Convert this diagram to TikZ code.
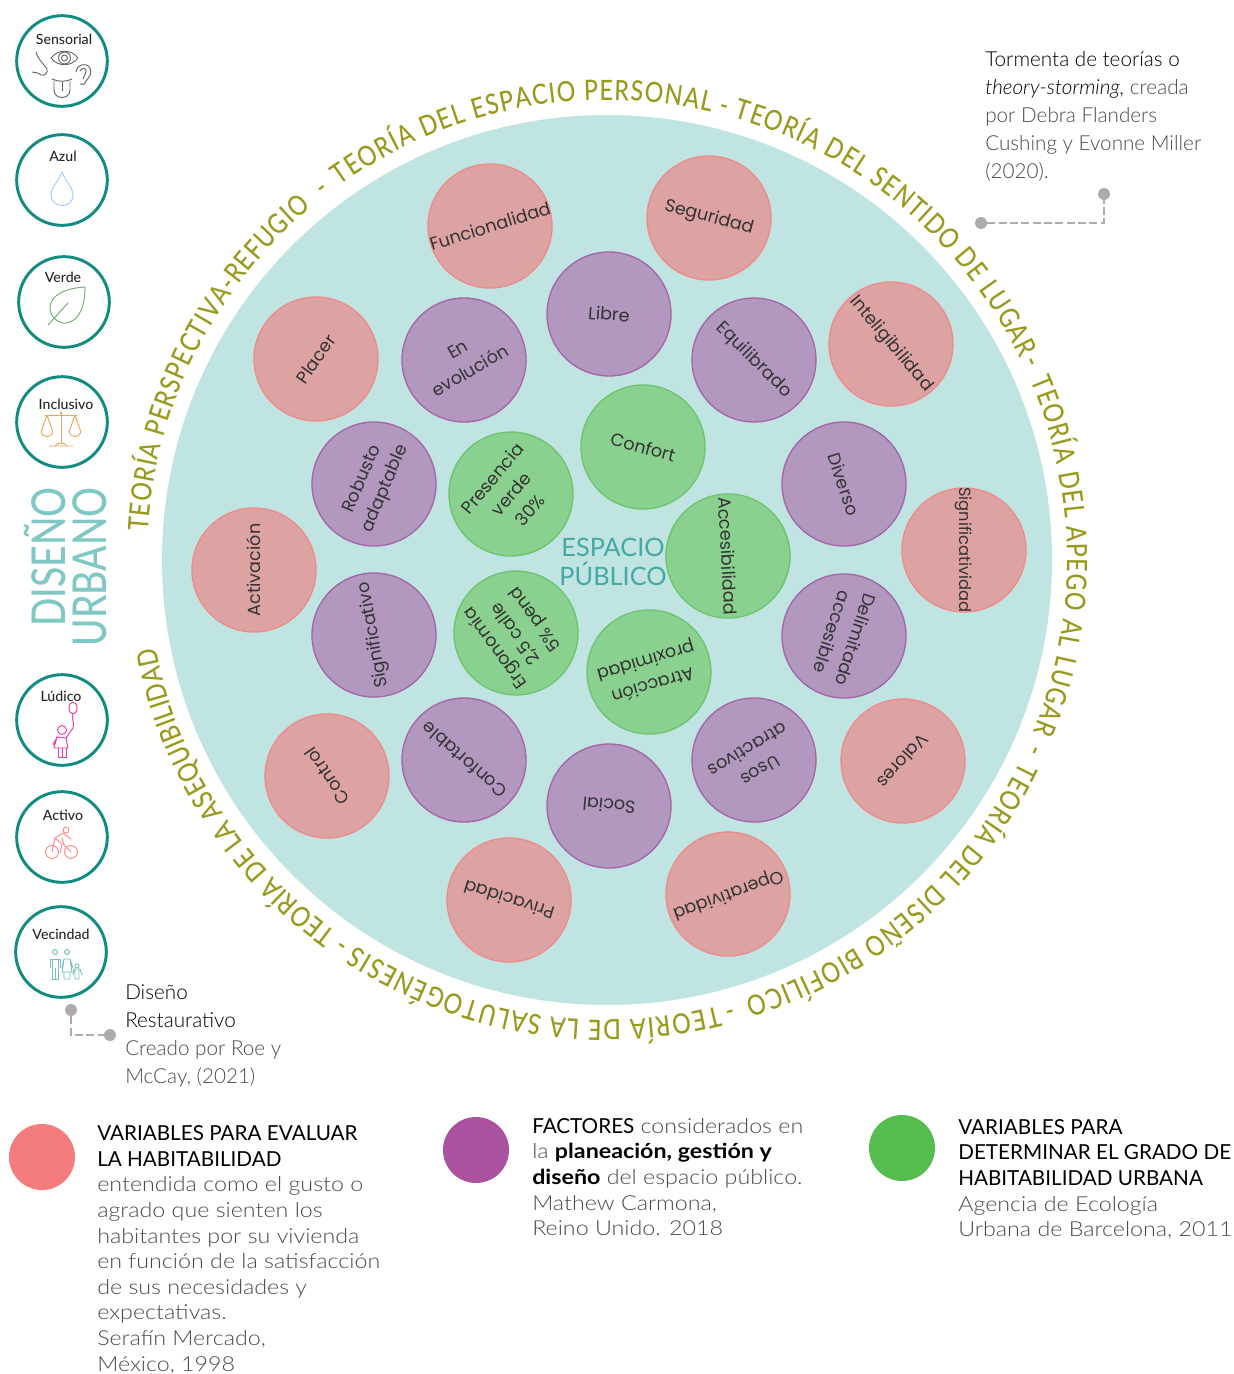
\documentclass[tikz,border=0pt]{standalone}
\usepackage{fontspec}
\usetikzlibrary{decorations.text}
\setmainfont{Lato}
\newfontfamily\gothic{Poppins}
\newfontfamily\lightf{Lato}[UprightFont=* Light,ItalicFont=* Light Italic,BoldFont=* Bold]
\newfontfamily\legf{Lato}[UprightFont=* Light,ItalicFont=* Light Italic,BoldFont=* Bold,FakeStretch=1.125]
\newfontfamily\arcf{Lato}[UprightFont=* Medium,FakeStretch=0.83]
\newfontfamily\titf{Lato}[UprightFont=* Medium,FakeStretch=0.8]
\newfontfamily\medf{Lato}[UprightFont=* Medium]
\definecolor{mainbg}{HTML}{BFE4E1}
\definecolor{redf}{HTML}{DDA3A3}\definecolor{redd}{HTML}{EE8A8A}
\definecolor{purf}{HTML}{B297BF}\definecolor{purd}{HTML}{A565A8}
\definecolor{grnf}{HTML}{8AD08F}\definecolor{grnd}{HTML}{6CC56E}
\definecolor{tealr}{HTML}{128C82}
\definecolor{olive2}{HTML}{9A9A1E}
\definecolor{lteal}{HTML}{7FC8C3}
\definecolor{ep}{HTML}{45A8A5}
\definecolor{gr}{HTML}{AFABAB}
\definecolor{tx}{HTML}{333333}
\definecolor{bodyc}{HTML}{4A4A4A}
\tikzset{
 x=0.75pt,y=-0.75pt,
 vbub/.style={circle,minimum size=93pt,inner sep=0pt,align=center,text=tx,line width=1pt,font=\gothic\fontsize{13.2}{18.5}\selectfont},
 redb/.style={vbub,fill=redf,draw=redd},
 purb/.style={vbub,fill=purf,draw=purd},
 grnb/.style={vbub,fill=grnf,draw=grnd},
 ring/.style={circle,draw=tealr,line width=2.2pt,minimum size=68pt,inner sep=0pt,fill=white},
 ringl/.style={font=\medf\fontsize{10.6}{12}\selectfont,text=black!85,inner sep=0pt},
 dotn/.style={circle,fill=gr,minimum size=9pt,inner sep=0pt},
 conn/.style={draw=gr,line width=2pt,dash pattern=on 6pt off 2.5pt},
 ico/.style={line width=0.7pt,line cap=round,line join=round},
 body/.style={anchor=north west,inner sep=0pt,align=left,text=bodyc},
 legc/.style={circle,minimum size=49.5pt,inner sep=0pt},
}
\newcommand\arcseg[3]{\path[decorate,decoration={text along path,text align={fit to path},text color=olive2,text={|\arcf\fontsize{21}{24}\selectfont|#3}}] (#1:460) arc[start angle=#1,end angle=#2,radius=460];}
\newcommand\arcdash[1]{\node[anchor=base,inner sep=0pt,text=olive2,rotate=#1-90,font=\arcf\fontsize{21}{24}\selectfont] at (#1:460) {-};}
\newcommand\nw[1]{\makebox[0pt][c]{#1}}
\begin{document}
\begin{tikzpicture}
\useasboundingbox (0,0) rectangle (1233,1374);
\node[circle,fill=mainbg,minimum size=667.5pt,inner sep=0pt] (main) at (607,560) {};
% arc text
\begin{scope}[shift={(607,560)},x=0.75pt,y=0.75pt]
\arcseg{176.5}{130}{TEORÍA PERSPECTIVA-REFUGIO}
\arcdash{127.5}
\arcseg{125.5}{77}{TEORÍA DEL ESPACIO PERSONAL}
\arcdash{75.5}
\arcseg{74}{26}{TEORÍA DEL SENTIDO DE LUGAR}
\arcdash{25}
\arcseg{23}{-22}{TEORÍA DEL APEGO AL LUGAR}
\arcdash{-24}
\arcseg{-26}{-72.5}{TEORÍA DEL DISEÑO BIOFÍLICO}
\arcdash{-74.8}
\arcseg{-76}{-123}{TEORÍA DE LA SALUTOGÉNESIS}
\arcdash{-124.5}
\arcseg{-126}{-169}{TEORÍA DE LA ASEQUIBILIDAD}
\end{scope}
% red
\node[redb,rotate=17] (r1) at (490,226) {\nw{Funcionalidad}};
\node[redb,rotate=-15] (r2) at (709,218) {Seguridad};
\node[redb,rotate=55] (r3) at (316,359) {Placer};
\node[redb,rotate=-50] (r4) at (891,344) {\nw{Inteligibilidad}};
\node[redb,rotate=90] (r5) at (254,570) {Activación};
\node[redb,rotate=-90] (r6) at (964,550) {\nw{\fontsize{12.2}{15}\selectfont Significatividad}};
\node[redb,rotate=124] (r7) at (327,776) {Control};
\node[redb,rotate=228] (r8) at (903,761) {Valores};
\node[redb,rotate=163] (r9) at (509,900) {Privacidad};
\node[redb,rotate=200] (r10) at (728,894) {\nw{Operatividad}};
% purple
\node[purb,rotate=-4] (p1) at (609,314) {Libre};
\node[purb,rotate=30] (p2) at (464,360) {En\\evolución};
\node[purb,rotate=-45] (p3) at (754,360) {Equilibrado};
\node[purb,rotate=67] (p4) at (374,484) {Robusto\\adaptable};
\node[purb,rotate=-72] (p5) at (844,484) {Diverso};
\node[purb,rotate=100] (p6) at (374,635) {\nw{Significativo}};
\node[purb,rotate=-108] (p7) at (844,636) {Delimitado\\accesible};
\node[purb,rotate=139] (p8) at (464,760) {Confortable};
\node[purb,rotate=211] (p9) at (754,760) {Usos\\atractivos};
\node[purb,rotate=175] (p10) at (609,806) {Social};
% green
\node[grnb,rotate=-15] (g1) at (643,447) {Confort};
\node[grnb,rotate=50] (g2) at (511,494) {Presencia\\verde\\30\%};
\node[grnb,rotate=-87] (g3) at (728,556) {\nw{Accesibilidad}};
\node[grnb,rotate=126] (g4) at (516,633) {Ergonomía\\2,5 calle\\5\% pend};
\node[grnb,rotate=196.5] (g5) at (649,672) {Atracción\\proximidad};
\node[align=center,inner sep=0pt,text=ep,font=\fontsize{19}{21.5}\selectfont] (ep) at (613,562) {ESPACIO\\PÚBLICO};
% left title
\node[rotate=90,text=lteal,inner sep=0pt,font=\titf\fontsize{35}{38}\selectfont] (dis) at (45,557) {DISEÑO};
\node[rotate=90,text=lteal,inner sep=0pt,font=\titf\fontsize{35}{38}\selectfont] (urb) at (90,567) {URBANO};
% rings
\node[ring] (c1) at (62,61) {};
\node[ring] (c2) at (62,180) {};
\node[ring] (c3) at (64,302) {};
\node[ring] (c4) at (62,422) {};
\node[ring] (c5) at (62,720) {};
\node[ring] (c6) at (62,837) {};
\node[ring] (c7) at (61,952) {};
\node[ringl] (l1) at (64,39) {Sensorial};
\node[ringl] (l2) at (63,156) {Azul};
\node[ringl] (l3) at (63,277) {Verde};
\node[ringl] (l4) at (66,404) {Inclusivo};
\node[ringl] (l5) at (61,696) {Lúdico};
\node[ringl] (l6) at (63,815) {Activo};
\node[ringl] (l7) at (61,934) {Vecindad};
% sensorial icons
\begin{scope}[ico,draw=black!60]
\draw (51,58) .. controls (58,49) and (71,49) .. (78,58) .. controls (71,67) and (58,67) .. (51,58) -- cycle;
\draw (64.5,58) circle[radius=6]; \draw (64.5,58) circle[radius=3];
\draw (36,52) .. controls (38,60) and (44,64) .. (47,69) .. controls (48,73) and (45,76) .. (41,75) .. controls (38,72) and (35,73) .. (32,72);
\draw (76,72) .. controls (77,64) and (86,62) .. (90,68) .. controls (93,74) and (88,78) .. (86,81) .. controls (85,85) and (82,85) .. (80,84);
\draw (80,71) .. controls (82,67) and (87,68) .. (86,72) .. controls (86,75) and (83,76) .. (83,79);
\draw (52,79) .. controls (58,82) and (66,82) .. (72,79);
\draw (54,81) -- (54,90) .. controls (54,100) and (70,100) .. (70,90) -- (70,81);
\draw (62,82) -- (62,91);
\end{scope}
% drop
\draw[ico,draw=blue!60!cyan!35] (62,172) .. controls (58,182) and (51,188) .. (51,195) .. controls (51,209) and (73,209) .. (73,195) .. controls (73,188) and (66,182) .. (62,172) -- cycle;
% leaf
\draw[ico,draw=green!40!black!55] (85,287) .. controls (66,288) and (50,295) .. (50,308) .. controls (50,318) and (60,324) .. (66,323) .. controls (80,321) and (85,305) .. (85,287) -- cycle;
\draw[ico,draw=green!40!black!55] (68,303) -- (48,325);
% scales
\begin{scope}[ico,draw=orange!60!brown!70]
\draw (45,415) -- (77,415); \draw (61,413) -- (61,443);
\draw (49,446) -- (73,446) (55,446) .. controls (56,442) and (66,442) .. (67,446);
\draw (47,415) -- (41,432) .. controls (42,438) and (52,438) .. (53,432) -- cycle;
\draw (75,415) -- (69,432) .. controls (70,438) and (80,438) .. (81,432) -- cycle;
\fill[orange!60!brown!70] (61,413) circle[radius=1.5];
\end{scope}
% girl
\begin{scope}[ico,draw=magenta!70!pink]
\draw (73,708) ellipse[x radius=4,y radius=6];
\draw (73,714) .. controls (71,720) and (75,722) .. (73,728);
\draw (62,730) circle[radius=4.5];
\draw (73,728) -- (66,738) -- (68,748) -- (54,748) -- (57,737) -- (53,745);
\draw (57,737) -- (66,738);
\draw (58,748) -- (58,757) -- (66,757) -- (66,748) (62,748) -- (62,757);
\end{scope}
% cyclist
\begin{scope}[ico,draw=pink!70!red]
\draw (52,852) circle[radius=6.5] (71,852) circle[radius=6.5];
\draw (66,830) circle[radius=3];
\draw (52,852) -- (55,838) -- (63,833) -- (71,839) (55,838) -- (62,844) -- (60,853) (62,838) -- (64,845) -- (71,852);
\end{scope}
% family
\begin{scope}[ico,draw=ep!75]
\draw (55,952) circle[radius=2.5] (67,952) circle[radius=2.5] (77,966) circle[radius=2];
\draw (50,968) -- (50,959) -- (60,959) -- (60,968) (52,960) -- (52,979) -- (58,979) -- (58,960) (55,968) -- (55,979);
\draw (62,968) -- (64,959) -- (70,959) -- (73,968) (64,959) -- (62,972) -- (72,972) -- (70,959) (64,972) -- (64,979) -- (70,979) -- (70,972);
\draw (73,975) -- (74,969) -- (80,969) -- (82,975) (75,970) -- (75,979) -- (79,979) -- (79,970);
\end{scope}
% connectors
\node[dotn] (d1) at (981,223) {};
\node[dotn] (d2) at (1104,194) {};
\node[dotn] (d3) at (71,1010) {};
\node[dotn] (d4) at (110,1035) {};
\draw[conn] (d1) -| (d2);
\draw[conn] (d3) |- (d4);
% notes
\node[body,font=\lightf\fontsize{15.5}{21}\selectfont] (n1) at (985,51) {{\color{black}Tormenta de teorías o}\\{\color{black}\itshape theory-storming,} creada\\por Debra Flanders\\Cushing y Evonne Miller\\(2020).};
\node[body,font=\lightf\fontsize{15.5}{21}\selectfont] (n2) at (125,984) {{\color{black}Diseño}\\{\color{black}Restaurativo}\\Creado por Roe y\\McCay, (2021)};
% legend
\node[legc,fill={rgb,255:red,244;green,124;blue,124}] (k1) at (42,1157) {};
\node[legc,fill={rgb,255:red,170;green,82;blue,159}] (k2) at (476,1150) {};
\node[legc,fill={rgb,255:red,85;green,188;blue,78}] (k3) at (902,1148) {};
\node[body,font=\legf\fontsize{15.5}{19.2}\selectfont] (t1) at (97,1125.5) {{\color{black}\rmfamily VARIABLES PARA EVALUAR}\\{\color{black}\rmfamily LA HABITABILIDAD}\\entendida como el gusto o\\agrado que sienten los\\habitantes por su vivienda\\en función de la satisfacción\\de sus necesidades y\\expectativas.\\Serafín Mercado,\\México, 1998};
\node[body,font=\legf\fontsize{15.5}{19.2}\selectfont] (t2) at (532,1118) {{\color{black}\rmfamily FACTORES} considerados en\\la {\color{black}\bfseries planeación, gestión y}\\{\color{black}\bfseries diseño} del espacio público.\\Mathew Carmona,\\Reino Unido. 2018};
\node[body,font=\legf\fontsize{15.5}{19.2}\selectfont] (t3) at (958,1119) {{\color{black}\rmfamily VARIABLES PARA}\\{\color{black}\rmfamily DETERMINAR EL GRADO DE}\\{\color{black}\rmfamily HABITABILIDAD URBANA}\\Agencia de Ecología\\Urbana de Barcelona, 2011};
\end{tikzpicture}
\end{document}
